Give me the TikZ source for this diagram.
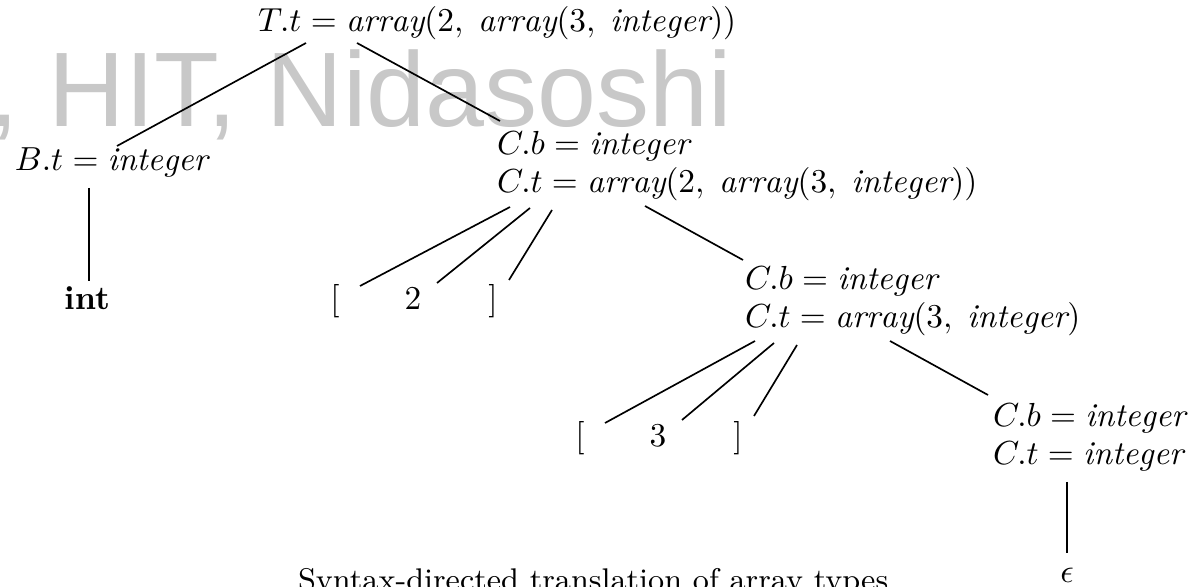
\documentclass[tikz,border=0pt]{standalone}
\usepackage{fontspec}
\newfontfamily\wmfont{Liberation Sans}
\definecolor{wmgray}{RGB}{200,200,200}
\begin{document}
\begin{tikzpicture}[x=0.3pt,y=-0.3pt,
  lbl/.style={inner sep=0pt,outer sep=0pt,anchor=base west},
  leaf/.style={inner sep=0pt,outer sep=0pt,anchor=base},
  edge/.style={line width=0.5pt,black},
  wm/.style={inner sep=0pt,outer sep=0pt,anchor=base west,text=wmgray,font=\wmfont\fontsize{31.8}{36}\selectfont}]
\useasboundingbox (0,0) rectangle (1198,587);
\clip (0,0) rectangle (1198,587);
% watermark
\node[wm] (wm) at (-10,127) {, HIT, Nidasoshi};
% nodes
\node[lbl] (T) at (258,32) {$T.t = \mathit{array}(2,\; \mathit{array}(3,\; \mathit{integer}))$};
\node[lbl] (B) at (15,171) {$B.t = \mathit{integer}$};
\node[lbl] (C1b) at (497,155) {$C.b = \mathit{integer}$};
\node[lbl] (C1t) at (497,193) {$C.t = \mathit{array}(2,\; \mathit{array}(3,\; \mathit{integer}))$};
\node[leaf] (int) at (87,310) {\textbf{int}};
\node[leaf] (lb1) at (335,310) {[};
\node[leaf] (two) at (413,310) {2};
\node[leaf] (rb1) at (493,310) {]};
\node[lbl] (C2b) at (745,290) {$C.b = \mathit{integer}$};
\node[lbl] (C2t) at (745,328) {$C.t = \mathit{array}(3,\; \mathit{integer})$};
\node[leaf] (lb2) at (580,447) {[};
\node[leaf] (three) at (658,447) {3};
\node[leaf] (rb2) at (738,447) {]};
\node[lbl] (C3b) at (993,427) {$C.b = \mathit{integer}$};
\node[lbl] (C3t) at (993,465) {$C.t = \mathit{integer}$};
\node[leaf] (eps) at (1067,583) {$\epsilon$};
\node[lbl,font=\fontsize{9.4}{11}\selectfont] (cap) at (298,591) {Syntax-directed translation of array types};
% connector end points, tied to the nodes
\coordinate (tB) at (306,43);  \coordinate (bT) at (117,146);
\coordinate (tC) at (357,43);  \coordinate (cT) at (500,121);
\coordinate (bI) at (89,188);  \coordinate (iB) at (89,281);
\coordinate (c1a) at (510,207); \coordinate (l1) at (360,286);
\coordinate (c1b) at (530,208); \coordinate (n1) at (437,283);
\coordinate (c1c) at (552,210); \coordinate (r1) at (509,280);
\coordinate (c1d) at (645,206); \coordinate (c2u) at (743,260);
\coordinate (c2a) at (755,341); \coordinate (l2) at (605,423);
\coordinate (c2b) at (774,343); \coordinate (n2) at (682,420);
\coordinate (c2c) at (797,345); \coordinate (r2) at (754,416);
\coordinate (c2d) at (890,341); \coordinate (c3u) at (988,395);
\coordinate (c3a) at (1067,482); \coordinate (eu) at (1067,553);
\draw[edge] (tB) -- (bT);
\draw[edge] (tC) -- (cT);
\draw[edge] (bI) -- (iB);
\draw[edge] (c1a) -- (l1);
\draw[edge] (c1b) -- (n1);
\draw[edge] (c1c) -- (r1);
\draw[edge] (c1d) -- (c2u);
\draw[edge] (c2a) -- (l2);
\draw[edge] (c2b) -- (n2);
\draw[edge] (c2c) -- (r2);
\draw[edge] (c2d) -- (c3u);
\draw[edge] (c3a) -- (eu);
\end{tikzpicture}
\end{document}
